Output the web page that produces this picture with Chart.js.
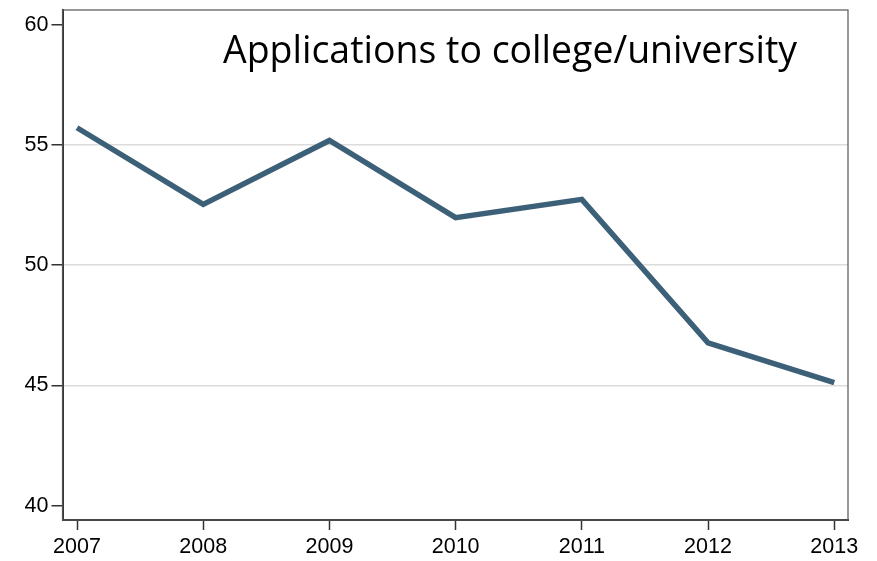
<!DOCTYPE html>
<html>
<head>
<meta charset="utf-8">
<script src="https://cdn.jsdelivr.net/npm/chart.js@4"></script>
<style>
  html, body { margin: 0; padding: 0; background: #fff; }
  #wrap { width: 877px; height: 561px; }
</style>
</head>
<body>
<div id="wrap"><canvas id="appChart" width="877" height="561"></canvas></div>
<script>
// ─── data ───
const years = [2007, 2008, 2009, 2010, 2011, 2012, 2013];
const applications = [55.72, 52.53, 55.19, 51.98, 52.74, 46.77, 45.12];
const yTicks = [40, 45, 50, 55, 60];
const gridValues = [45, 50, 55];
const titleText = 'Applications to college/university';

// ─── frame + inner title ───
const framePlugin = {
  id: 'frame',
  afterDraw(chart) {
    const { ctx, chartArea: a } = chart;
    ctx.save();
    ctx.strokeStyle = '#555';
    ctx.lineWidth = 1.2;
    ctx.strokeRect(a.left, a.top, a.right - a.left, a.bottom - a.top);
    ctx.fillStyle = '#000';
    ctx.font = "37.5px 'Open Sans', sans-serif";
    ctx.textBaseline = 'alphabetic';
    ctx.fillText(titleText, 223, 63, 574);
    ctx.restore();
  }
};

const tickFont = { family: "'Liberation Sans', Arial, sans-serif", size: 21.5 };

new Chart(document.getElementById('appChart'), {
  type: 'line',
  data: {
    datasets: [{
      data: years.map((y, i) => ({ x: y, y: applications[i] })),
      borderColor: '#3d6079', borderWidth: 5.5,
      pointRadius: 0, tension: 0, fill: false,
      borderCapStyle: 'butt', borderJoinStyle: 'miter'
    }]
  },
  options: {
    responsive: false, animation: false,
    layout: { padding: { top: 10, right: 29, left: 0, bottom: 0 } },
    plugins: { legend: { display: false }, tooltip: { enabled: false } },
    scales: {
      x: {
        type: 'linear', min: 2006.885, max: 2013.109,
        afterBuildTicks: s => { s.ticks = years.map(v => ({ value: v })); },
        afterFit: s => { s.height = 41; s.paddingLeft = 0; s.paddingRight = 0; },
        grid: { drawOnChartArea: false, tickLength: 10, tickColor: '#333', tickWidth: 1.5 },
        border: { color: '#333', width: 2 },
        ticks: { color: '#000', font: tickFont, padding: 4, maxRotation: 0, callback: v => String(v) }
      },
      y: {
        min: 39.4, max: 60.62,
        afterBuildTicks: s => { s.ticks = yTicks.map(v => ({ value: v })); },
        afterFit: s => { s.width = 62.5; s.paddingTop = 0; s.paddingBottom = 0; },
        grid: {
          color: c => gridValues.includes(c.tick && c.tick.value) ? '#dcdcdc' : 'rgba(0,0,0,0)',
          lineWidth: 1.5, tickLength: 11, tickColor: '#333', tickWidth: 1.5
        },
        border: { color: '#333', width: 2 },
        ticks: { color: '#000', font: tickFont, padding: 3 }
      }
    }
  },
  plugins: [framePlugin]
});
</script>
</body>
</html>
